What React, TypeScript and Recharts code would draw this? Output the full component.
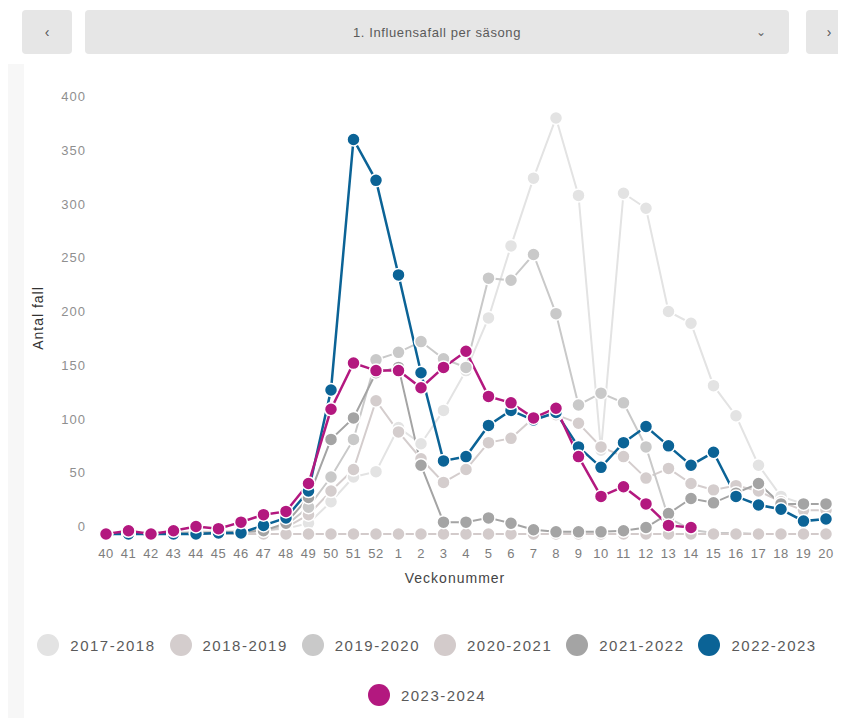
import { LineChart, Line, XAxis, YAxis } from "recharts";

const weeks = [
  "40", "41", "42", "43", "44", "45", "46", "47", "48", "49", "50", "51", "52",
  "1", "2", "3", "4", "5", "6", "7", "8", "9", "10", "11", "12", "13", "14", "15", "16", "17", "18", "19", "20",
];

const yTicks = [0, 50, 100, 150, 200, 250, 300, 350, 400];

// cases per week, one array per season (week 40 -> week 20)
const s2017 = [1, 1, 1, 1, 1, 2, 2, 3, 5, 10, 30, 53, 58, 99, 84, 115, 152, 201, 268, 331, 387, 315, 78, 317, 303, 207, 196, 138, 110, 64, 35, 28, 28];
const s2018 = [0, 1, 1, 1, 2, 2, 2, 3, 6, 18, 40, 60, 124, 95, 70, 48, 60, 85, 89, 108, 111, 103, 81, 72, 52, 61, 47, 41, 45, 40, 30, 22, 22];
const s2019 = [0, 0, 1, 1, 1, 2, 2, 3, 8, 25, 53, 88, 162, 169, 179, 163, 155, 238, 236, 260, 205, 120, 131, 122, 81, 15, 4, 1, 1, 0, 0, 0, 0];
const s2020 = [0, 0, 0, 0, 0, 0, 0, 0, 0, 0, 0, 0, 0, 0, 0, 0, 0, 0, 0, 0, 0, 0, 0, 0, 0, 0, 0, 0, 0, 0, 0, 0, 0];
const s2021 = [0, 0, 0, 0, 1, 1, 2, 3, 10, 34, 88, 108, 150, 155, 64, 11, 11, 15, 10, 4, 2, 2, 2, 3, 6, 19, 33, 29, 38, 47, 28, 28, 28];
const s2022 = [0, 0, 0, 0, 0, 1, 1, 8, 15, 40, 134, 367, 329, 241, 150, 68, 72, 101, 115, 106, 113, 81, 62, 85, 100, 82, 64, 76, 35, 27, 23, 12, 14];
const s2023 = [0, 3, 0, 3, 7, 5, 11, 18, 21, 47, 116, 159, 152, 152, 136, 155, 170, 128, 122, 108, 117, 72, 35, 44, 28, 8, 6];

const SEASONS = [
  { key: "s2017", label: "2017-2018", color: "#e3e3e3", values: s2017, width: 2 },
  { key: "s2018", label: "2018-2019", color: "#d4cdcd", values: s2018, width: 2 },
  { key: "s2019", label: "2019-2020", color: "#c9c9c9", values: s2019, width: 2 },
  { key: "s2020", label: "2020-2021", color: "#d3cbcb", values: s2020, width: 2 },
  { key: "s2021", label: "2021-2022", color: "#a4a4a4", values: s2021, width: 2 },
  { key: "s2022", label: "2022-2023", color: "#0b6396", values: s2022, width: 2.5 },
  { key: "s2023", label: "2023-2024", color: "#b3187f", values: s2023, width: 2.5 },
];

const data = weeks.map((week, i) => {
  const row: Record<string, string | number | null> = { week };
  SEASONS.forEach((s) => {
    row[s.key] = i < s.values.length ? s.values[i] : null;
  });
  return row;
});

const FONT = '"Liberation Sans", Arial, sans-serif';

function YTick({ x, y, payload }: any) {
  return (
    <text x={x} y={y - 8} dy={5} textAnchor="end" fill="#8f8f8f" fontSize={13} letterSpacing={1} fontFamily={FONT}>
      {payload.value}
    </text>
  );
}

const btn = {
  position: "absolute" as const,
  top: 10,
  height: 44,
  background: "#e6e6e6",
  borderRadius: 4,
  display: "flex",
  alignItems: "center",
  justifyContent: "center",
  color: "#555",
  fontSize: 14,
};

export default function App() {
  return (
    <div style={{ position: "relative", width: 846, height: 726, margin: -8, background: "#fff", overflow: "hidden", fontFamily: FONT }}>
      <div style={{ position: "absolute", left: 0, top: 64, width: 3, height: 662, background: "#222" }} />
      <div style={{ position: "absolute", left: 3, top: 64, width: 21, height: 662, background: "#f7f7f7" }} />

      <div style={{ ...btn, left: 22, width: 50 }}>‹</div>
      <div style={{ ...btn, left: 85, width: 704, fontSize: 13, letterSpacing: 0.6, color: "#5a5a5a" }}>
        1. Influensafall per säsong
        <span style={{ position: "absolute", right: 22, fontSize: 12, color: "#666" }}>⌄</span>
      </div>
      <div style={{ ...btn, left: 806, width: 46 }}>›</div>

      <LineChart
        width={846}
        height={600}
        data={data}
        margin={{ top: 104, right: 20, left: 46, bottom: 36 }}
        style={{ position: "absolute", left: 0, top: 0 }}
      >
        <XAxis
          dataKey="week"
          interval={0}
          tickLine={false}
          axisLine={false}
          height={30}
          tickMargin={9}
          tick={{ fontSize: 13, fill: "#7d7d7d", fontFamily: FONT, letterSpacing: 0.5 }}
        />
        <YAxis
          width={60}
          domain={[0, 400]}
          ticks={yTicks}
          tickLine={false}
          axisLine={false}
          tickMargin={14}
          tick={<YTick />}
        />
        {SEASONS.map((s) => (
          <Line
            key={s.key}
            dataKey={s.key}
            name={s.label}
            stroke={s.color}
            strokeWidth={s.width}
            dot={{ r: 6.5, fill: s.color, stroke: "#fff", strokeWidth: 1.5 }}
            activeDot={false}
            isAnimationActive={false}
          />
        ))}
      </LineChart>

      <div style={{ position: "absolute", left: 38, top: 318, transform: "translate(-50%, -50%) rotate(-90deg)", fontSize: 14, color: "#333", letterSpacing: 1, whiteSpace: "nowrap" }}>
        Antal fall
      </div>
      <div style={{ position: "absolute", left: 455, top: 578, transform: "translate(-50%, -50%)", fontSize: 14, color: "#444", letterSpacing: 1, whiteSpace: "nowrap" }}>
        Veckonummer
      </div>

      <div style={{ position: "absolute", left: 0, top: 634, width: 854, display: "flex", flexWrap: "wrap", justifyContent: "center", rowGap: 28, columnGap: 14 }}>
        {SEASONS.map((s) => (
          <div key={s.key} style={{ display: "flex", alignItems: "center", gap: 11 }}>
            <span style={{ width: 22, height: 22, borderRadius: "50%", background: s.color, display: "inline-block" }} />
            <span style={{ fontSize: 15, color: "#5a5a5a", letterSpacing: 1.5 }}>{s.label}</span>
          </div>
        ))}
      </div>
    </div>
  );
}
